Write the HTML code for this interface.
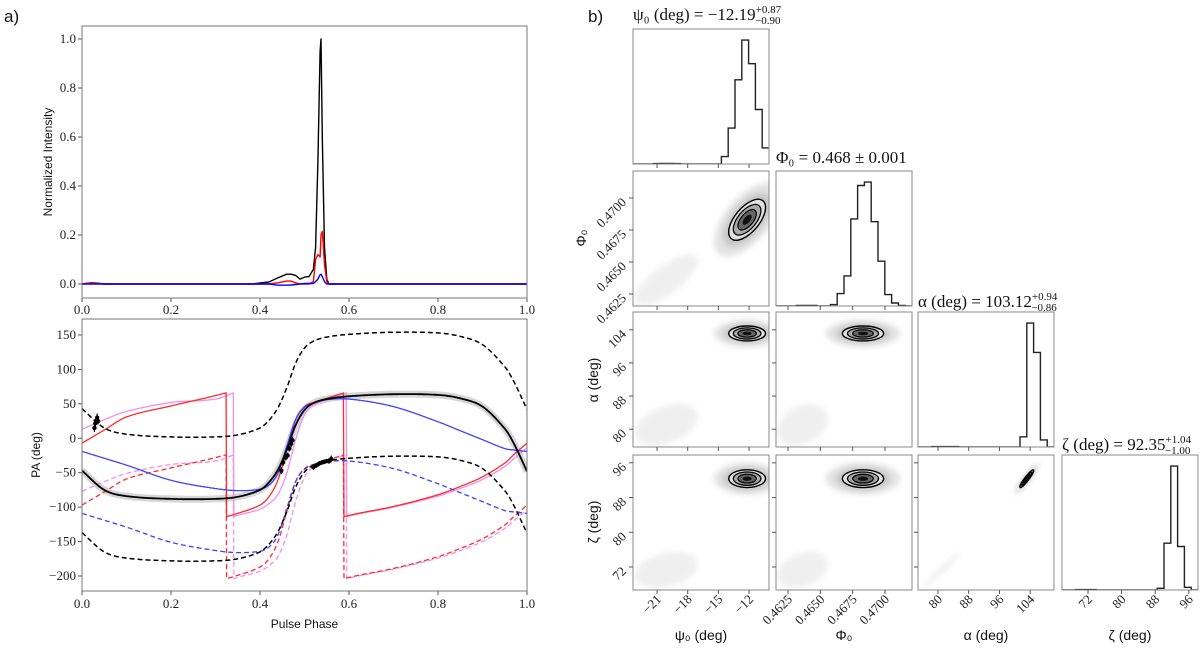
<!DOCTYPE html>
<html><head><meta charset="utf-8">
<style>
html,body{margin:0;padding:0;background:#fff;}
svg{display:block;}
.tk{font-family:"Liberation Serif",serif;font-size:13px;fill:#222;}
.lab{font-family:"Liberation Sans",sans-serif;font-size:12px;fill:#111;}
.ttl{font-family:"Liberation Serif",serif;font-size:17px;fill:#111;}
</style></head>
<body>
<svg id="fig" width="1200" height="648" viewBox="0 0 1200 648" xmlns="http://www.w3.org/2000/svg">
<defs>
<filter id="blur3" x="-50%" y="-50%" width="200%" height="200%"><feGaussianBlur stdDeviation="3"/></filter>
</defs>
</svg>
<script>
// ---------- data: intensity profile ----------
const profPhase=[0,0.02,0.03,0.05,0.38,0.42,0.44,0.46,0.47,0.48,0.49,0.5,0.51,0.52,0.525,0.53,0.535,0.537,0.54,0.545,0.55,0.555,0.56,1.0];
const profI=[0,0.005,0.004,0,0,0.008,0.025,0.04,0.04,0.035,0.02,0.028,0.03,0.06,0.15,0.5,0.95,1.0,0.6,0.15,0.02,0,0,0];
const profL=[0,0.005,0.003,0,0,0,0.005,0.012,0.012,0.005,0,0,0,0.01,0.1,0.12,0.11,0.2,0.215,0.08,0.01,0,0,0];
const profV=[0,0,0,0,0,0,-0.005,-0.005,-0.004,-0.002,0,0.002,0.002,0.002,0.01,0.02,0.038,0.04,0.03,0.01,0,0,0,0];
const intTicks=[0,0.2,0.4,0.6,0.8,1.0];
const phaseTicks=[0,0.2,0.4,0.6,0.8,1.0];
// ---------- data: PA curves ----------
const paPhase=[0,0.05,0.1,0.2,0.3,0.35,0.4,0.42,0.44,0.46,0.48,0.5,0.52,0.55,0.6,0.7,0.8,0.85,0.9,0.95,0.97,1.0];
const paBlack=[-47,-75,-84,-88,-88,-85,-75,-64,-46,-17,19,41,51,57,61,64,63,58,46,14,-7,-48];
const paRed=[-7,12,31,47,62,71,83,95,119,163,207,226,232,238,248,261,278,290,304,324,336,353];
const paPink=[13,27,39,52,57,68,77,85,98,129,178,214,228,236,247,260,276,287,300,319,330,346];
const paBlue=[-19,-29,-39,-61,-73,-76,-74,-68,-51,-12,27,45,51,56,57,46,24,11,-2,-15,-17,-19];
const orthoOffset=[90,-90];
const wrapLow=-114;
const obsPhase=[0.028,0.03,0.034,0.036,0.448,0.452,0.458,0.462,0.466,0.47,0.473,0.52,0.525,0.53,0.535,0.54,0.545,0.55,0.555,0.56];
const obsPA=[15,22,30,25,-47,-35,-28,-25,-15,-8,-3,-42,-40,-38,-36,-35,-34,-33,-33,-30];
const obsErr=[6,6,6,5,5,5,4,4,4,5,5,4,3,3,3,3,3,3,4,5];
const paTicks=[150,100,50,0,-50,-100,-150,-200];
// ---------- data: corner ----------
const parNames=['psi0','phi0','alpha','zeta'];
const histPsi=[0,0,0,3,5,5,3,0,0,0,0,0,0,60,290,680,1000,810,440,130];
const histPhi=[0,0,0,5,5,5,0,0,11,100,243,703,973,1000,681,362,92,24,5,0];
const histAlpha=[0,0,3,3,3,3,0,0,0,0,0,0,0,0,0,82,1000,764,57,0];
const histZeta=[0,0,3,3,3,0,0,0,0,0,0,0,0,0,14,378,1000,351,22,0];
const mainMean=[-12.19,0.4683,103.12,92.35];
const mainSd=[0.9,0.0008,0.9,1.02];
const secMean=[-20.1,0.4636,81.0,71.3];
const secSd=[1.4,0.0009,2.3,1.9];
const corrMain=[[1,0.6,0,0],[0.6,1,0,0],[0,0,1,0.93],[0,0,0.93,1]];
const corrSec=[[1,0.75,0.4,0.3],[0.75,1,0.3,0.3],[0.4,0.3,1,0.98],[0.3,0.3,0.98,1]];
const tickPsi=[-21,-18,-15,-12];
const tickPhi=[0.4625,0.4650,0.4675,0.4700];
const tickAlpha=[80,88,96,104];
const tickZeta=[72,80,88,96];
const xRange=[[-23.35,-10.05],[0.46157,0.47209],[74.8,110.2],[65.8,98.2]];
const yRange=[[-23.35,-10.05],[0.46156,0.47211],[75.7,108.3],[66.7,97.8]];

const NS='http://www.w3.org/2000/svg';
const svg=document.getElementById('fig');
function mk(tag,attrs,parent,name){
  const el=document.createElementNS(NS,tag);
  for(const k in attrs) el.setAttribute(k,attrs[k]);
  
  
  (parent||svg).appendChild(el);
  return el;
}
function txt(x,y,s,cls,name,extra){
  const t=mk('text',Object.assign({x:x,y:y,class:cls},extra||{}),extra&&extra._p?extra._p:svg,name);
  t.textContent=s;return t;
}
function fmt(v,d){return (v<0?'\u2212':'')+Math.abs(v).toFixed(d);}
function interp(xs,ys,x){
  let i=0;while(i<xs.length-2&&x>xs[i+1])i++;
  const x0=xs[i],x1=xs[i+1];const t=(x-x0)/(x1-x0);
  const p0=ys[Math.max(i-1,0)],p1=ys[i],p2=ys[i+1],p3=ys[Math.min(i+2,ys.length-1)];
  const h=x1-x0;
  const m1=i>0?(p2-p0)/(xs[i+1]-xs[i-1])*h:(p2-p1);
  const m2=i+2<xs.length?(p3-p1)/(xs[i+2]-xs[i])*h:(p2-p1);
  const t2=t*t,t3=t2*t;
  return (2*t3-3*t2+1)*p1+(t3-2*t2+t)*m1+(-2*t3+3*t2)*p2+(t3-t2)*m2;
}

txt(4,22,'a)','lab','label-a',{style:'font-size:17px'});
txt(588,22,'b)','lab','label-b',{style:'font-size:17px'});

// ---------- top panel ----------
const T={l:82,r:527,t:26,b:298};
const txP=p=>T.l+p*(T.r-T.l);
const tyI=v=>284-v*245;
const gTop=mk('g',{},svg,'intensity-panel');
phaseTicks.forEach(p=>{
  mk('line',{x1:txP(p),x2:txP(p),y1:T.b,y2:T.b+4,stroke:'#555'},gTop,'x-tick');
  txt(txP(p),T.b+16,p.toFixed(1),'tk','x-tick-label',{'text-anchor':'middle',_p:gTop});
});
intTicks.forEach(v=>{
  mk('line',{x1:T.l-4,x2:T.l,y1:tyI(v),y2:tyI(v),stroke:'#555'},gTop,'y-tick');
  txt(T.l-6,tyI(v)+4,v.toFixed(1),'tk','y-tick-label',{'text-anchor':'end',_p:gTop});
});
txt(0,0,'Normalized Intensity','lab','y-axis-title',{transform:'translate(52,162) rotate(-90)','text-anchor':'middle',_p:gTop});
[[profI,'#000','total-intensity'],[profL,'#ff0000','linear-polarization'],[profV,'#0000ff','circular-polarization']].forEach(([arr,c,n])=>{
  let d='';profPhase.forEach((p,i)=>{d+=(i?'L':'M')+txP(p).toFixed(1)+','+tyI(arr[i]).toFixed(1);});
  mk('path',{d:d,fill:'none',stroke:c,'stroke-width':1.4,'stroke-linejoin':'round'},gTop,n);
});
mk('rect',{x:T.l,y:T.t,width:T.r-T.l,height:T.b-T.t,fill:'none',stroke:'#777'},gTop,'intensity-frame');

// ---------- bottom panel ----------
const B={l:82,r:527,t:319,b:591};
const bx=p=>B.l+p*(B.r-B.l);
const by=v=>335+(150-v)*(241/350);
const gB=mk('g',{},svg,'pa-panel');
const clipB=mk('clipPath',{id:'clipB'},svg,'pa-clip');
mk('rect',{x:B.l,y:B.t,width:B.r-B.l,height:B.b-B.t},clipB,'pa-clip-rect');
const gBc=mk('g',{'clip-path':'url(#clipB)'},gB,'pa-curves');
function curvePath(arr,off,wrap){
  let d='';const N=800;
  for(let k=0;k<=N;k++){
    const p=k/N;let v=interp(paPhase,arr,p);
    if(wrap){v=((v-wrapLow)%180+180)%180+wrapLow;}
    v+=off;
    d+=(k?'L':'M')+bx(p).toFixed(1)+','+by(v).toFixed(1);
  }
  return d;
}
mk('path',{d:curvePath(paBlack,0,false),fill:'none',stroke:'#ccc','stroke-width':7,opacity:0.8},gBc,'pa-uncertainty-band');
[[paPink,'#f28ef2','pink',true],[paRed,'#ff2a2a','red',true],[paBlue,'#4040ff','blue',false]].forEach(([arr,c,n,w])=>{
  mk('path',{d:curvePath(arr,0,w),fill:'none',stroke:c,'stroke-width':1.3},gBc,'pa-model-'+n);
  mk('path',{d:curvePath(arr,orthoOffset[1],w),fill:'none',stroke:c,'stroke-width':1.3,'stroke-dasharray':'5,3'},gBc,'pa-model-'+n+'-ortho');
});
mk('path',{d:curvePath(paBlack,0,false),fill:'none',stroke:'#000','stroke-width':1.8},gBc,'pa-best-fit');
orthoOffset.forEach(o=>{
  mk('path',{d:curvePath(paBlack,o,false),fill:'none',stroke:'#000','stroke-width':1.5,'stroke-dasharray':'5,3'},gBc,'pa-best-fit-ortho');
});
obsPhase.forEach((p,i)=>{
  mk('line',{x1:bx(p),x2:bx(p),y1:by(obsPA[i]-obsErr[i]),y2:by(obsPA[i]+obsErr[i]),stroke:'#000','stroke-width':1.2},gBc,'pa-errorbar');
  mk('circle',{cx:bx(p),cy:by(obsPA[i]),r:2.2,fill:'#000'},gBc,'pa-point');
});
phaseTicks.forEach(p=>{
  mk('line',{x1:bx(p),x2:bx(p),y1:B.b,y2:B.b+4,stroke:'#555'},gB,'x-tick');
  txt(bx(p),B.b+17,p.toFixed(1),'tk','x-tick-label',{'text-anchor':'middle',_p:gB});
});
paTicks.forEach(v=>{
  mk('line',{x1:B.l-4,x2:B.l,y1:by(v),y2:by(v),stroke:'#555'},gB,'y-tick');
  txt(B.l-6,by(v)+4,fmt(v,0),'tk','y-tick-label',{'text-anchor':'end',_p:gB});
});
txt(bx(0.5),628,'Pulse Phase','lab','x-axis-title',{'text-anchor':'middle',_p:gB});
txt(0,0,'PA (deg)','lab','y-axis-title',{transform:'translate(40,455) rotate(-90)','text-anchor':'middle',_p:gB});
mk('rect',{x:B.l,y:B.t,width:B.r-B.l,height:B.b-B.t,fill:'none',stroke:'#777'},gB,'pa-frame');

// ---------- corner plot ----------
const colL=[633,776,918,1062],rowT=[29,171,312,455],W=136,H=135;
const hists=[histPsi,histPhi,histAlpha,histZeta];
const ticks=[tickPsi,tickPhi,tickAlpha,tickZeta];
const tdec=[0,4,0,0];
const gC=mk('g',{},svg,'corner-plot');
function cx(j,v){return colL[j]+(v-xRange[j][0])/(xRange[j][1]-xRange[j][0])*W;}
function cy(i,v){return rowT[i]+H-(v-yRange[i][0])/(yRange[i][1]-yRange[i][0])*H;}
function ellipse(g,i,j,mean,sd,corr,k,attrs,name){
  const sx=W/(xRange[j][1]-xRange[j][0]),sy=H/(yRange[i][1]-yRange[i][0]);
  const a=Math.pow(sx*sd[j],2),c=Math.pow(sy*sd[i],2),b=-corr[i][j]*sx*sd[j]*sy*sd[i];
  const th=0.5*Math.atan2(2*b,a-c);const m=(a+c)/2,q=Math.sqrt(Math.pow((a-c)/2,2)+b*b);
  const rx=k*Math.sqrt(m+q),ry=k*Math.sqrt(Math.max(m-q,0.3));
  const X=cx(j,mean[j]),Y=cy(i,mean[i]);
  return mk('ellipse',Object.assign({cx:X,cy:Y,rx:rx,ry:ry,transform:'rotate('+(th*180/Math.PI)+' '+X+' '+Y+')'},attrs),g,name);
}
for(let i=0;i<4;i++){
  for(let j=0;j<=i;j++){
    const g=mk('g',{},gC,'corner-panel-'+parNames[i]+'-'+parNames[j]);
    const cid='cc'+i+j;
    const cp=mk('clipPath',{id:cid},g,'corner-clip');
    mk('rect',{x:colL[j],y:rowT[i],width:W,height:H},cp,'corner-clip-rect');
    const inner=mk('g',{'clip-path':'url(#'+cid+')'},g,'corner-content');
    if(i===j){
      const h=hists[i];const mx=Math.max(...h)*1.09;const bw=W/h.length;
      let d='M'+colL[j]+','+(rowT[i]+H);
      h.forEach((v,k)=>{const y=rowT[i]+H-v/mx*H;d+='L'+(colL[j]+k*bw).toFixed(1)+','+y.toFixed(1)+'L'+(colL[j]+(k+1)*bw).toFixed(1)+','+y.toFixed(1);});
      mk('path',{d:d,fill:'none',stroke:'#222','stroke-width':1.4},inner,'histogram-'+parNames[i]);
    } else {
      ellipse(inner,i,j,secMean,secSd,corrSec,2.2,{fill:'#ddd',opacity:0.45,filter:'url(#blur3)'},'secondary-cloud');
      ellipse(inner,i,j,mainMean,mainSd,corrMain,3.6,{fill:'#ccc',opacity:0.55,filter:'url(#blur3)'},'main-cloud');
      ellipse(inner,i,j,mainMean,mainSd,corrMain,2.6,{fill:'#aaa',opacity:0.5,filter:'url(#blur3)'},'main-cloud-inner');
      ellipse(inner,i,j,mainMean,mainSd,corrMain,2,{fill:'#e0e0e0',stroke:'#000','stroke-width':1.4},'contour-2sigma');
      ellipse(inner,i,j,mainMean,mainSd,corrMain,1.5,{fill:'#aaa',stroke:'#000','stroke-width':1.3},'contour-1.5sigma');
      ellipse(inner,i,j,mainMean,mainSd,corrMain,1,{fill:'#666',stroke:'#000','stroke-width':1.2},'contour-1sigma');
      ellipse(inner,i,j,mainMean,mainSd,corrMain,0.5,{fill:'#111'},'contour-core');
    }
    mk('rect',{x:colL[j],y:rowT[i],width:W,height:H,fill:'none',stroke:'#888'},g,'corner-frame');
    ticks[j].forEach(v=>{
      const X=cx(j,v);
      mk('line',{x1:X,x2:X,y1:rowT[i]+H,y2:rowT[i]+H+4,stroke:'#555'},g,'x-tick');
      if(i===3){txt(0,0,fmt(v,tdec[j]),'tk','x-tick-label',{'text-anchor':'end',transform:'translate('+(X+5)+','+(rowT[i]+H+10)+') rotate(-45)',_p:g});}
    });
    if(i!==j){
      ticks[i].forEach(v=>{
        const Y=cy(i,v);
        mk('line',{x1:colL[j]-4,x2:colL[j],y1:Y,y2:Y,stroke:'#555'},g,'y-tick');
        if(j===0){txt(0,0,fmt(v,tdec[i]),'tk','y-tick-label',{'text-anchor':'end',transform:'translate('+(colL[0]-6)+','+(Y+5)+') rotate(-45)',_p:g});}
      });
    }
  }
}
function title(x,y,main,sup,sub,name){
  const t=mk('text',{x:x,y:y,class:'ttl'},gC,name);
  const a=document.createElementNS(NS,'tspan');a.textContent=main;t.appendChild(a);
  if(sup){
    const s1=document.createElementNS(NS,'tspan');s1.setAttribute('dy','-7');s1.setAttribute('style','font-size:11px');s1.textContent=sup;t.appendChild(s1);
    const s2=document.createElementNS(NS,'tspan');s2.setAttribute('dy','11');s2.setAttribute('dx','-26');s2.setAttribute('style','font-size:11px');s2.textContent=sub;t.appendChild(s2);
  }
}
title(633,20,'\u03c8\u2080 (deg) = \u221212.19','+0.87','\u22120.90','title-psi0');
title(776,163,'\u03a6\u2080 = 0.468 \u00b1 0.001','','','title-phi0');
title(918,307,'\u03b1 (deg) = 103.12','+0.94','\u22120.86','title-alpha');
title(1062,450,'\u03b6 (deg) = 92.35','+1.04','\u22121.00','title-zeta');
txt(colL[0]+W/2,640,'\u03c8\u2080 (deg)','lab','x-axis-title-psi0',{'text-anchor':'middle',style:'font-size:14px',_p:gC});
txt(colL[1]+W/2,640,'\u03a6\u2080','lab','x-axis-title-phi0',{'text-anchor':'middle',style:'font-size:14px',_p:gC});
txt(colL[2]+W/2,640,'\u03b1 (deg)','lab','x-axis-title-alpha',{'text-anchor':'middle',style:'font-size:14px',_p:gC});
txt(colL[3]+W/2,640,'\u03b6 (deg)','lab','x-axis-title-zeta',{'text-anchor':'middle',style:'font-size:14px',_p:gC});
txt(0,0,'\u03a6\u2080','lab','y-axis-title-phi0',{'text-anchor':'middle',style:'font-size:14px',transform:'translate(586,238) rotate(-90)',_p:gC});
txt(0,0,'\u03b1 (deg)','lab','y-axis-title-alpha',{'text-anchor':'middle',style:'font-size:14px',transform:'translate(598,380) rotate(-90)',_p:gC});
txt(0,0,'\u03b6 (deg)','lab','y-axis-title-zeta',{'text-anchor':'middle',style:'font-size:14px',transform:'translate(598,522) rotate(-90)',_p:gC});
</script>
</body></html>
